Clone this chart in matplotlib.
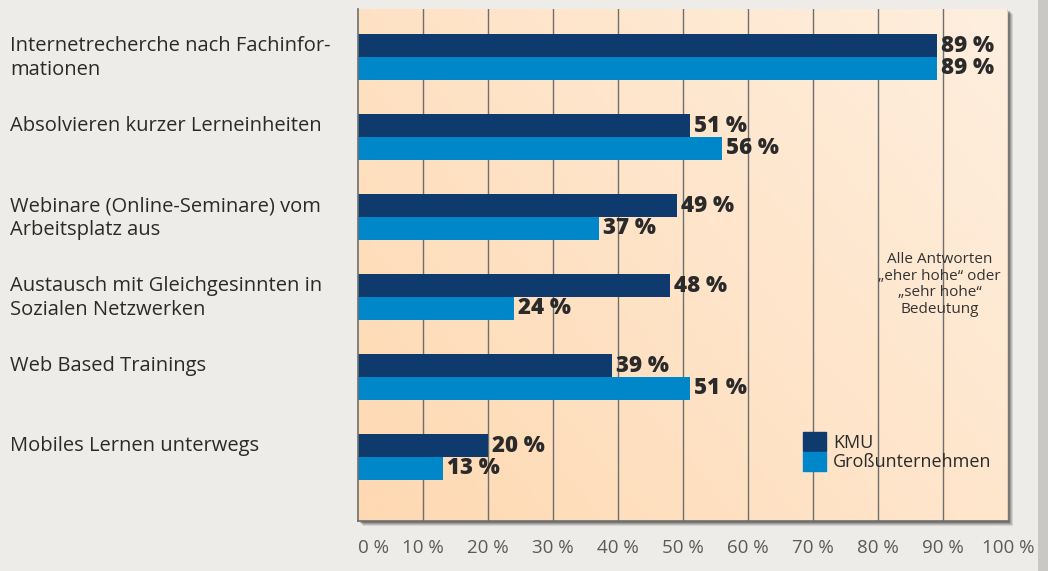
import numpy as np
import matplotlib
matplotlib.use("Agg")
import matplotlib.pyplot as plt
from matplotlib.patches import Rectangle, Patch
from matplotlib.colors import to_rgb
import matplotlib.transforms as mtransforms

plt.rcParams['font.family'] = ['Open Sans', 'DejaVu Sans']

categories = [
    "Internetrecherche nach Fachinfor-\nmationen",
    "Absolvieren kurzer Lerneinheiten",
    "Webinare (Online-Seminare) vom\nArbeitsplatz aus",
    "Austausch mit Gleichgesinnten in\nSozialen Netzwerken",
    "Web Based Trainings",
    "Mobiles Lernen unterwegs",
]
kmu = [89, 51, 49, 48, 39, 20]
gross = [89, 56, 37, 24, 51, 13]
series_names = ["KMU", "Großunternehmen"]
xticks = list(range(0, 101, 10))
xtick_labels = [f"{t} %" for t in xticks]
note = "Alle Antworten\n„eher hohe“ oder\n„sehr hohe“\nBedeutung"

c_kmu = "#0e3a6e"
c_gross = "#0087c9"
bg = "#edece8"
txt = "#2a2a2a"

W, H = 1048, 571
fig = plt.figure(figsize=(W / 100, H / 100), dpi=100, facecolor=bg)

# axes box in pixels
x0, x1, ytop, ybot = 358, 1008, 9, 521
ax = fig.add_axes([x0 / W, 1 - ybot / H, (x1 - x0) / W, (ybot - ytop) / H])

# drop shadow behind plot area
for i, a in enumerate([0.10, 0.12, 0.16, 0.22]):
    off = 5 - i
    fig.patches.append(Rectangle(((x0 + off) / W, (1 - (ybot + off) / H)),
                                 (x1 - x0) / W, (ybot - ytop) / H,
                                 transform=fig.transFigure, facecolor="black",
                                 alpha=a, edgecolor="none", zorder=-2))
# grey strip on the right edge
fig.patches.append(Rectangle((1038 / W, 0), 10 / W, 1, transform=fig.transFigure,
                             facecolor="#c9c8c4", edgecolor="none", zorder=-3))

# peach gradient background
c1 = np.array(to_rgb("#fed9b2"))
c2 = np.array(to_rgb("#feefdf"))
gx, gy = np.meshgrid(np.linspace(0, 1, 200), np.linspace(0, 1, 200))
t = (gx * 0.6 + gy * 0.4)[..., None]
grad = c1 * (1 - t) + c2 * t
ax.imshow(grad, extent=[0, 1, 0, 1], transform=ax.transAxes, origin="lower",
          aspect="auto", zorder=0)

y = np.arange(len(categories))
h = 0.2875
b1 = ax.barh(y - h / 2, kmu, height=h, color=c_kmu, zorder=2, label=series_names[0])
b2 = ax.barh(y + h / 2, gross, height=h, color=c_gross, zorder=2, label=series_names[1])
for b in (b1, b2):
    ax.bar_label(b, fmt="%d %%", padding=3, fontsize=16, fontweight="heavy", color=txt)

for xt in xticks[1:]:
    ax.axvline(xt, color="#6e6e6e", lw=1, zorder=1)

ax.set_xlim(0, 100)
ax.set_ylim(5.8, -0.6)
ax.set_yticks([])
ax.set_xticks(xticks, xtick_labels)
ax.tick_params(axis="x", length=0, pad=13, labelsize=13.5, labelcolor="#5a5a5a")
ax.get_xticklabels()[0].set_horizontalalignment("left")
for s in ["top", "right"]:
    ax.spines[s].set_visible(False)
for s in ["left", "bottom"]:
    ax.spines[s].set_color("#6e6e6e")
    ax.spines[s].set_linewidth(1.2)

# category labels, left aligned in figure
tr = mtransforms.blended_transform_factory(fig.transFigure, ax.transData)
for yi, lab in zip(y, categories):
    ax.text(10 / W, yi - 0.26, lab, transform=tr, ha="left", va="top",
            fontsize=14.5, color=txt, linespacing=1.25)

ax.text(0.895, 0.462, note, transform=ax.transAxes, ha="center", va="center",
        fontsize=11, color="#333333", linespacing=1.15)

handles = [Patch(color=c_kmu), Patch(color=c_gross)]
leg = ax.legend(handles, series_names, loc="upper left", bbox_to_anchor=(0.685, 0.174),
                frameon=False, fontsize=13, handlelength=1.25, handleheight=1.25,
                labelspacing=0, handletextpad=0.4, borderaxespad=0, borderpad=0)
for tx in leg.get_texts():
    tx.set_color(txt)

fig.savefig("out.png", dpi=100, facecolor=bg)
